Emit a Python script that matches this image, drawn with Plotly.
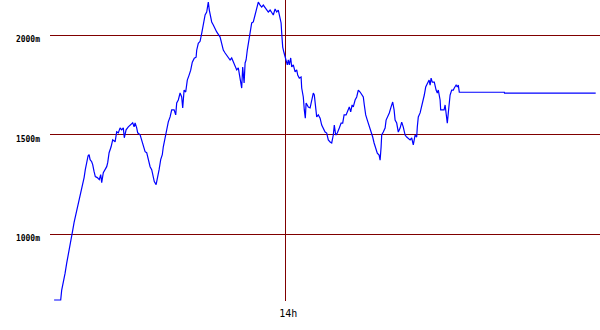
import plotly.graph_objects as go

# time in minutes after midnight, altitude in metres
times = [724.4, 727.7, 728.2, 729.0, 729.9, 730.7, 731.5, 732.4, 733.2, 733.7,
         734.4, 735.2, 736.0, 736.9, 737.7, 738.5, 739.4, 740.0, 740.7, 741.4,
         741.9, 742.4, 743.2, 743.7, 744.4, 745.0, 746.0, 747.0, 747.7, 748.2,
         749.0, 749.9, 750.7, 751.2, 751.9, 752.9, 753.7, 754.9, 755.7, 756.5,
         757.4, 758.2, 759.0, 759.5, 760.4, 761.5, 762.7, 763.7, 764.4, 764.9,
         765.7, 766.2, 767.4, 768.2, 769.0, 769.9, 770.7, 771.5, 772.4, 773.2,
         774.0, 774.5, 775.4, 776.0, 776.9, 777.7, 778.5, 779.0, 779.9, 780.7,
         781.5, 782.4, 783.2, 784.4, 785.2, 785.7, 786.5, 787.4, 788.2, 788.7,
         789.4, 790.2, 791.0, 791.9, 792.7, 793.5, 794.5, 795.4, 795.7, 796.5,
         797.4, 798.2, 799.0, 799.9, 800.7, 801.5, 802.0, 803.2, 804.0, 805.7,
         807.4, 808.2, 809.0, 809.9, 810.7, 811.5, 812.4, 813.2, 814.0, 814.9,
         815.7, 816.5, 817.4, 818.2, 818.7, 819.4, 819.9, 820.4, 821.0, 821.9,
         822.4, 823.2, 824.0, 824.9, 825.7, 826.5, 827.4, 828.2, 829.0, 829.9,
         830.7, 831.5, 832.4, 833.2, 834.0, 834.9, 835.7, 836.5, 837.4, 837.9,
         838.2, 838.7, 839.4, 840.2, 841.0, 841.5, 842.0, 842.7, 843.2, 844.0,
         844.9, 845.7, 846.2, 847.0, 847.9, 848.2, 849.0, 849.5, 850.0, 850.4,
         851.5, 852.4, 853.2, 854.0, 854.5, 855.2, 855.7, 856.5, 857.4, 858.2,
         859.0, 859.9, 860.7, 861.5, 862.4, 863.2, 864.0, 864.5, 865.2, 866.0,
         867.0, 867.9, 868.7, 869.4, 870.4, 871.2, 872.0, 872.7, 873.4, 874.0,
         874.9, 875.7, 876.5, 877.4, 878.2, 879.0, 879.5, 880.2, 881.0, 881.9,
         882.7, 883.7, 884.4, 885.2, 886.0, 886.9, 887.4, 887.9, 888.2, 889.0,
         889.9, 890.4, 891.2, 892.0, 892.9, 893.7, 894.4, 894.9, 895.7, 896.5,
         897.4, 898.2, 899.0, 899.9, 900.7, 901.5, 902.4, 903.2, 904.0, 904.9,
         905.7, 906.0, 906.5, 907.4, 908.2, 909.0, 909.5, 910.2, 911.0, 911.9,
         912.4, 912.9, 913.5, 914.5, 915.4, 916.0, 916.5, 917.4, 917.7, 918.5,
         919.4, 919.9, 920.4, 921.0, 921.5, 922.0, 922.4, 923.2, 924.0, 924.5,
         925.4, 926.0, 926.5, 927.0, 949.5, 949.6, 995.2]

altitude = [670, 670, 720, 755, 805, 855, 895, 945, 985, 1020,
            1060, 1095, 1135, 1170, 1210, 1250, 1285, 1325, 1365, 1395,
            1400, 1375, 1365, 1350, 1315, 1290, 1285, 1275, 1300, 1260,
            1310, 1325, 1340, 1360, 1410, 1440, 1475, 1465, 1515, 1510,
            1535, 1525, 1535, 1485, 1525, 1540, 1550, 1560, 1540, 1560,
            1535, 1510, 1500, 1475, 1440, 1415, 1410, 1375, 1340, 1325,
            1290, 1265, 1250, 1275, 1325, 1375, 1400, 1440, 1490, 1540,
            1565, 1590, 1625, 1625, 1600, 1660, 1675, 1710, 1690, 1635,
            1725, 1715, 1775, 1800, 1825, 1865, 1885, 1890, 1925, 1960,
            1970, 2010, 2050, 2102, 2117, 2167, 2127, 2067, 2052, 2017,
            1991, 1961, 1926, 1911, 1901, 1886, 1876, 1886, 1866, 1851,
            1826, 1836, 1790, 1735, 1841, 1760, 1861, 1876, 1926, 1976,
            2012, 2062, 2067, 2102, 2142, 2167, 2152, 2142, 2152, 2137,
            2127, 2117, 2127, 2112, 2102, 2132, 2117, 2127, 2092, 2062,
            2012, 1941, 1911, 1886, 1851, 1876, 1851, 1886, 1841, 1851,
            1816, 1826, 1800, 1785, 1790, 1735, 1690, 1625, 1584, 1660,
            1640, 1635, 1675, 1710, 1700, 1615, 1590, 1600, 1584, 1549,
            1534, 1514, 1509, 1474, 1464, 1459, 1499, 1549, 1499, 1509,
            1534, 1559, 1559, 1600, 1600, 1625, 1640, 1615, 1650, 1640,
            1675, 1690, 1725, 1715, 1700, 1690, 1650, 1600, 1574, 1549,
            1524, 1489, 1459, 1434, 1408, 1398, 1373, 1439, 1499, 1514,
            1534, 1574, 1590, 1610, 1640, 1665, 1625, 1574, 1559, 1514,
            1534, 1564, 1539, 1499, 1489, 1484, 1474, 1484, 1449, 1499,
            1489, 1539, 1590, 1610, 1640, 1675, 1700, 1740, 1760, 1775,
            1750, 1785, 1765, 1765, 1725, 1710, 1725, 1675, 1625, 1625,
            1625, 1650, 1615, 1559, 1610, 1675, 1700, 1725, 1725, 1735,
            1750, 1740, 1750, 1715, 1714, 1709, 1709]

y_ticks = [1000, 1500, 2000]
y_tick_labels = ["1000m", "1500m", "2000m"]
x_ticks = [840]
x_tick_labels = ["14h"]

fig = go.Figure()
fig.add_trace(go.Scatter(
    x=times, y=altitude, mode="lines",
    line=dict(color="#0000ff", width=1.2),
    hoverinfo="skip", showlegend=False,
))

grid_col = "#800000"
fig.update_layout(
    width=600, height=330,
    margin=dict(l=50, r=0, t=0, b=29, pad=0),
    paper_bgcolor="white", plot_bgcolor="white",
    showlegend=False,
)
fig.update_xaxes(
    range=[722.35, 997.35],
    tickmode="array", tickvals=x_ticks, ticktext=x_tick_labels,
    showgrid=True, gridcolor=grid_col, gridwidth=1,
    zeroline=False, showline=False, ticks="",
    tickfont=dict(family="DejaVu Sans Mono", size=10, color="black"),
    ticklabelshift=3, ticklabelstandoff=5,
)
fig.update_yaxes(
    range=[665, 2177.4],
    tickmode="array", tickvals=y_ticks, ticktext=y_tick_labels,
    showgrid=True, gridcolor=grid_col, gridwidth=1,
    zeroline=False, showline=False, ticks="",
    tickfont=dict(family="DejaVu Sans Mono", size=8, color="black", weight="bold"),
    ticklabelshift=4, ticklabelstandoff=9,
)

fig.write_html("out.html")
